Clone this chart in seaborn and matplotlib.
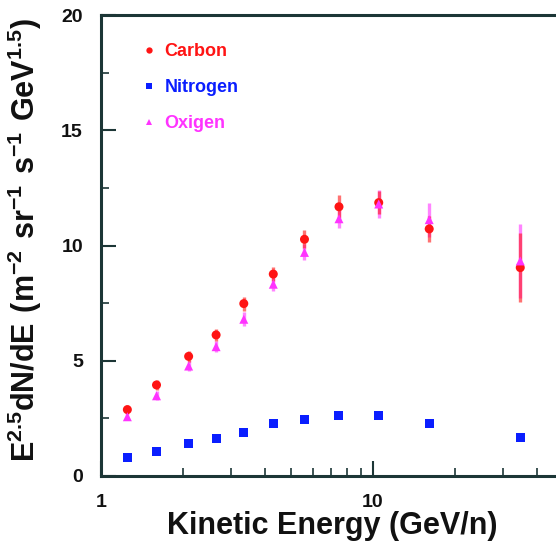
import matplotlib
matplotlib.use("Agg")
import matplotlib.pyplot as plt
import matplotlib.ticker as mticker
import seaborn as sns
import pandas as pd
import numpy as np

energy = [1.25, 1.6, 2.1, 2.65, 3.35, 4.3, 5.6, 7.5, 10.5, 16.1, 34.8]
carbon = [2.88, 3.95, 5.19, 6.12, 7.48, 8.76, 10.27, 11.68, 11.86, 10.72, 9.04]
carbon_err = [0.2, 0.2, 0.25, 0.25, 0.3, 0.3, 0.4, 0.5, 0.5, 0.55, 1.5]
nitrogen = [0.79, 1.08, 1.40, 1.61, 1.90, 2.27, 2.47, 2.62, 2.62, 2.26, 1.66]
nitrogen_err = [0.03, 0.04, 0.05, 0.05, 0.06, 0.07, 0.07, 0.08, 0.08, 0.1, 0.15]
oxygen = [2.57, 3.48, 4.77, 5.61, 6.80, 8.32, 9.70, 11.16, 11.8, 11.12, 9.33]
oxygen_err = [0.15, 0.2, 0.2, 0.25, 0.3, 0.3, 0.35, 0.4, 0.6, 0.74, 1.6]
species = ["Carbon", "Nitrogen", "Oxigen"]
colors = {"Carbon": "#ff1414", "Nitrogen": "#0a1eff", "Oxigen": "#ff33ff"}
markers = {"Carbon": "o", "Nitrogen": "s", "Oxigen": "^"}

df = pd.DataFrame({
    "E": energy * 3,
    "flux": carbon + nitrogen + oxygen,
    "err": carbon_err + nitrogen_err + oxygen_err,
    "species": ["Carbon"] * len(energy) + ["Nitrogen"] * len(energy) + ["Oxigen"] * len(energy),
})

sns.set_theme(style="white")
plt.rcParams["font.family"] = ["Liberation Sans", "DejaVu Sans"]
plt.rcParams["font.weight"] = "bold"
plt.rcParams["mathtext.fontset"] = "custom"
plt.rcParams["mathtext.bf"] = "Liberation Sans:bold"
plt.rcParams["mathtext.rm"] = "Liberation Sans:bold"
plt.rcParams["mathtext.default"] = "bf"

fig = plt.figure(figsize=(5.56, 5.45), dpi=100)
ax = fig.add_axes([101 / 556, 69 / 545, 1 - 101 / 556, 461 / 545])

spine_c = "#1c3636"
for sp in ["Oxigen", "Carbon"]:
    sub = df[df.species == sp]
    ax.errorbar(sub.E, sub.flux, yerr=sub.err, fmt="none",
                ecolor=colors[sp], elinewidth=2.4, alpha=0.6, capsize=0, zorder=2)

sns.scatterplot(data=df, x="E", y="flux", hue="species", style="species",
                palette=colors, markers=markers, hue_order=species, style_order=species,
                s=42, edgecolor="none", linewidth=0, ax=ax, zorder=3, legend=True)

ax.set_xscale("log")
ax.set_xlim(1, 47.1)
ax.set_ylim(0, 20)

ax.xaxis.set_major_locator(mticker.FixedLocator([1, 10]))
ax.xaxis.set_major_formatter(mticker.FixedFormatter(["1", "10"]))
ax.xaxis.set_minor_locator(mticker.LogLocator(base=10, subs=np.arange(2, 10)))
ax.xaxis.set_minor_formatter(mticker.NullFormatter())
ax.yaxis.set_major_locator(mticker.MultipleLocator(5))
ax.yaxis.set_minor_locator(mticker.MultipleLocator(2.5))

ax.tick_params(which="both", direction="in", colors=spine_c, labelcolor="#111111",
               labelsize=14, bottom=True, left=True, top=False, right=False)
ax.tick_params(which="major", length=11, width=1.5)
ax.tick_params(which="minor", length=5.5, width=1.2)
ax.tick_params(axis="x", pad=13)
ax.tick_params(axis="y", pad=13)
for lab in ax.get_xticklabels() + ax.get_yticklabels():
    lab.set_fontweight("bold")

for name, sp in ax.spines.items():
    sp.set_color(spine_c)
    sp.set_linewidth(2.2)
ax.spines["right"].set_visible(False)

ax.set_xlabel("Kinetic Energy (GeV/n)", fontsize=22, fontweight="bold", color="#111111")
ax.set_ylabel(r"$E^{2.5}dN/dE\ (m^{-2}\ sr^{-1}\ s^{-1}\ GeV^{1.5})$", fontsize=22,
              color="#111111")
ax.xaxis.set_label_coords(0.508, -0.076)
ax.yaxis.set_label_coords(-0.125, 0.512)

handles, labels = ax.get_legend_handles_labels()
leg = ax.legend(handles, labels, loc="upper left", bbox_to_anchor=(0.05, 0.955),
                frameon=False, fontsize=13, labelcolor="markerfacecolor",
                handletextpad=-0.15, labelspacing=1.05, markerscale=0.7,
                borderaxespad=0)
for t in leg.get_texts():
    t.set_fontweight("bold")

fig.savefig("out.png", dpi=100)
